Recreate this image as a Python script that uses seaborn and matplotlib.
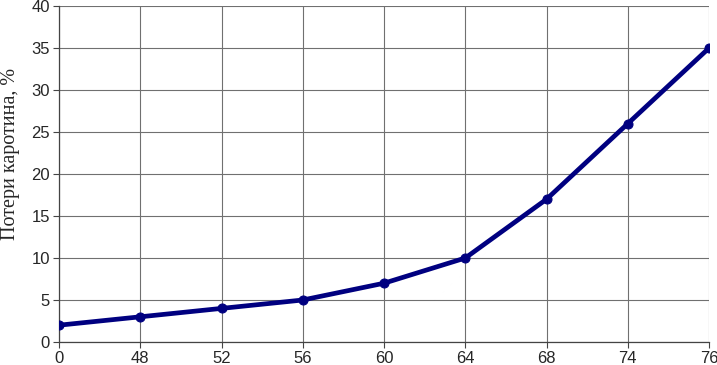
import matplotlib
matplotlib.use('Agg')
import matplotlib.pyplot as plt
import seaborn as sns
import pandas as pd

# --- DATA ---
x_labels = ['0', '48', '52', '56', '60', '64', '68', '74', '76']
losses = [2, 3, 4, 5, 7, 10, 17, 26, 35]

df = pd.DataFrame({'pos': range(len(x_labels)), 'loss': losses})

sns.set_style("white")
plt.rcParams['font.family'] = ['Liberation Sans', 'DejaVu Sans']

fig = plt.figure(figsize=(7.17, 3.65), dpi=100)
ax = fig.add_axes([0.0823, 0.063, 0.9067, 0.9207])

sns.lineplot(data=df, x='pos', y='loss', ax=ax, color='#000080',
             linewidth=3.4, marker='o', markersize=6.5,
             markeredgecolor='#000080', zorder=3)

ax.set_xlim(0, len(x_labels) - 1)
ax.set_ylim(0, 40)
ax.set_xticks(range(len(x_labels)))
ax.set_xticklabels(x_labels)
ax.set_yticks(range(0, 41, 5))

ax.grid(True, color='#707070', linewidth=0.8)
for s in ['top', 'right']:
    ax.spines[s].set_visible(False)
for s in ['left', 'bottom']:
    ax.spines[s].set_color('#444444')
    ax.spines[s].set_linewidth(0.9)

ax.tick_params(axis='both', direction='out', length=4, width=0.8,
               color='#444444', labelsize=12, pad=2.5,
               bottom=True, left=True)

ax.set_xlabel('')
ax.set_ylabel('Потери каротина, %', fontsize=14.5,
              family=['Liberation Serif', 'DejaVu Serif'])
ax.yaxis.set_label_coords(-0.06, 0.56)

plt.savefig('out.png', dpi=100)
